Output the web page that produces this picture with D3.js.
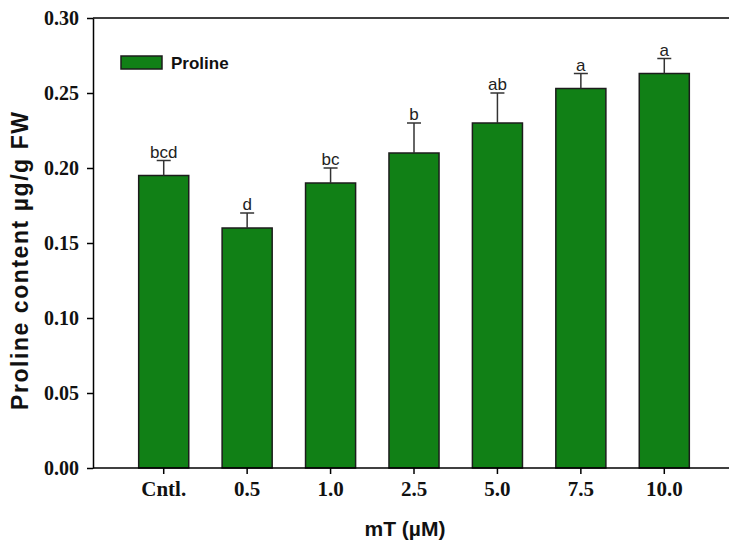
<!DOCTYPE html>
<html>
<head>
<meta charset="utf-8">
<title>Proline content</title>
<script src="https://d3js.org/d3.v7.min.js"></script>
<style>
  body { margin: 0; background: #fff; }
  .tick text { font-family: "Liberation Serif", "Times New Roman", serif; font-weight: bold; font-size: 20px; fill: #111; }
  .axis path, .axis line { stroke: #000; stroke-width: 1.5px; }
</style>
</head>
<body>
<div id="chart"></div>
<script>

// data
var treatments = ["Cntl.", "0.5", "1.0", "2.5", "5.0", "7.5", "10.0"];
var proline    = [0.195, 0.160, 0.190, 0.210, 0.230, 0.253, 0.263];
var errors     = [0.010, 0.010, 0.010, 0.020, 0.020, 0.010, 0.010];
var letters    = ["bcd", "d", "bc", "b", "ab", "a", "a"];
var yTicks     = [0.00, 0.05, 0.10, 0.15, 0.20, 0.25, 0.30];

var data = treatments.map(function(t, i) {
  return {name: t, value: proline[i], err: errors[i], letter: letters[i]};
});

var W = 729, H = 541;
var margin = {top: 18, right: 0, bottom: 73, left: 93},
    width = W - margin.left - margin.right,
    height = H - margin.top - margin.bottom;

var svg = d3.select("#chart")
    .append("svg")
    .attr("width", W)
    .attr("height", H)
  .append("g")
    .attr("transform", "translate(" + margin.left + "," + margin.top + ")");

var x = d3.scaleBand()
    .domain(treatments)
    .range([122 - margin.left, 706 - margin.left])
    .paddingInner(0.4)
    .paddingOuter(0.2);

var y = d3.scaleLinear()
    .domain([0, 0.30])
    .range([height, 0]);

// top frame line
svg.append("line")
    .attr("x1", 0).attr("x2", width)
    .attr("y1", 0).attr("y2", 0)
    .style("stroke", "#000")
    .style("stroke-width", "1.5px");

// bars
svg.selectAll(".bar")
    .data(data)
  .enter().append("rect")
    .attr("class", "bar")
    .attr("x", function(d) { return x(d.name); })
    .attr("width", x.bandwidth())
    .attr("y", function(d) { return y(d.value); })
    .attr("height", function(d) { return height - y(d.value); })
    .style("fill", "#118016")
    .style("stroke", "#1c1c1c")
    .style("stroke-width", "1.5px");

// error bars (upper only)
var eb = svg.selectAll(".err")
    .data(data)
  .enter().append("g")
    .attr("class", "err")
    .style("stroke", "#333")
    .style("stroke-width", "1.5px");

eb.append("line")
    .attr("x1", function(d) { return x(d.name) + x.bandwidth() / 2; })
    .attr("x2", function(d) { return x(d.name) + x.bandwidth() / 2; })
    .attr("y1", function(d) { return y(d.value); })
    .attr("y2", function(d) { return y(d.value + d.err); });

eb.append("line")
    .attr("x1", function(d) { return x(d.name) + x.bandwidth() / 2 - 7; })
    .attr("x2", function(d) { return x(d.name) + x.bandwidth() / 2 + 7; })
    .attr("y1", function(d) { return y(d.value + d.err); })
    .attr("y2", function(d) { return y(d.value + d.err); });

// significance letters
svg.selectAll(".letter")
    .data(data)
  .enter().append("text")
    .attr("class", "letter")
    .attr("x", function(d) { return x(d.name) + x.bandwidth() / 2; })
    .attr("y", function(d) { return y(d.value + d.err) - 3; })
    .style("text-anchor", "middle")
    .style("font-family", "Liberation Sans, Arial, sans-serif")
    .style("font-size", "17px")
    .style("fill", "#222")
    .text(function(d) { return d.letter; });

// axes
svg.append("g")
    .attr("class", "x axis")
    .attr("transform", "translate(0," + height + ")")
    .call(d3.axisBottom(x).tickSizeOuter(0).tickSize(6).tickPadding(7))
  .select(".domain")
    .attr("d", "M0,0H" + width);

svg.selectAll(".x.axis .tick text").style("font-size", "21px");

svg.append("g")
    .attr("class", "y axis")
    .call(d3.axisLeft(y).tickValues(yTicks).tickFormat(d3.format(".2f")).tickSize(6).tickPadding(8).tickSizeOuter(0));

// axis titles
svg.append("text")
    .attr("x", 405 - margin.left)
    .attr("y", 536 - margin.top)
    .style("text-anchor", "middle")
    .style("font-family", "Liberation Sans, Arial, sans-serif")
    .style("font-weight", "bold")
    .style("font-size", "21px")
    .style("fill", "#111")
    .text("mT (\u00b5M)");

svg.append("text")
    .attr("transform", "translate(" + (28 - margin.left) + "," + (261 - margin.top) + ") rotate(-90)")
    .style("text-anchor", "middle")
    .style("font-family", "Liberation Sans, Arial, sans-serif")
    .style("font-weight", "bold")
    .style("font-size", "23px")
    .style("fill", "#111")
    .attr("textLength", 298)
    .attr("lengthAdjust", "spacing")
    .text("Proline content \u00b5g/g FW");

// legend
var legend = svg.append("g")
    .attr("transform", "translate(" + (121 - margin.left) + "," + (56 - margin.top) + ")");

legend.append("rect")
    .attr("width", 41)
    .attr("height", 13)
    .style("fill", "#118016")
    .style("stroke", "#1c1c1c")
    .style("stroke-width", "1.5px");

legend.append("text")
    .attr("x", 50)
    .attr("y", 13)
    .style("font-family", "Liberation Sans, Arial, sans-serif")
    .style("font-weight", "bold")
    .style("font-size", "17px")
    .style("fill", "#111")
    .text("Proline");

</script>
</body>
</html>
